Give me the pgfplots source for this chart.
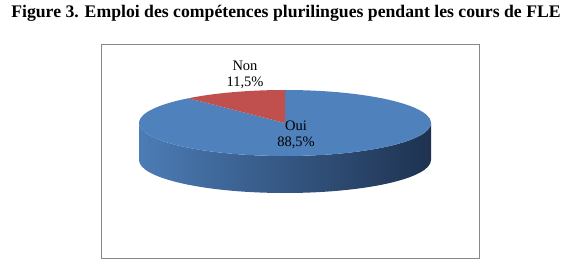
\documentclass[border=0pt]{standalone}
\usepackage{pgfplots}
\pgfplotsset{compat=1.18}
\usepackage{fontspec}
\setmainfont{Liberation Serif}
\definecolor{pieblue}{RGB}{79,129,189}
\definecolor{piered}{RGB}{192,80,77}
\definecolor{sideL}{RGB}{76,124,182}
\definecolor{sideM}{RGB}{58,96,146}
\definecolor{sideR}{RGB}{30,50,80}
\definecolor{framegray}{RGB}{135,135,135}
\def\valOui{88.5}
\def\valNon{11.5}
\pgfmathsetmacro{\angN}{90+3.6*\valNon}
\begin{document}
\begin{tikzpicture}
\begin{axis}[scale only axis, width=571pt, height=265pt,
  xmin=0, xmax=571, ymin=0, ymax=265, hide axis, clip=false]
\path (axis cs:0,0) rectangle (axis cs:571,265);
% frame
\draw[framegray, line width=0.8pt] (axis cs:101,221) rectangle (axis cs:479,7);
% side
\shade[left color=sideL, middle color=sideM, right color=sideR]
  (axis cs:139,142) arc[start angle=180, end angle=360, x radius=146pt, y radius=33pt]
  -- ++(0,-37pt) arc[start angle=360, end angle=180, x radius=146pt, y radius=33pt] -- cycle;
% top face
\fill[pieblue] (axis cs:285,142) -- ++(\angN:146pt and 33pt)
  arc[start angle=\angN, end angle=450, x radius=146pt, y radius=33pt] -- cycle;
\fill[piered] (axis cs:285,142) -- ++(90:146pt and 33pt)
  arc[start angle=90, end angle=\angN, x radius=146pt, y radius=33pt] -- cycle;
% labels
\node[align=center, font=\fontsize{14.5}{16}\selectfont, inner sep=0pt] at (axis cs:245,190) {Non\\11,5\%};
\node[align=center, font=\fontsize{14.5}{16}\selectfont, inner sep=0pt] at (axis cs:296,130) {Oui\\88,5\%};
% title
\node[font=\bfseries\fontsize{17.7}{20}\selectfont, inner sep=0pt] at (axis cs:286,252) {Figure 3. Emploi des compétences plurilingues pendant les cours de FLE};
\end{axis}
\end{tikzpicture}
\end{document}
